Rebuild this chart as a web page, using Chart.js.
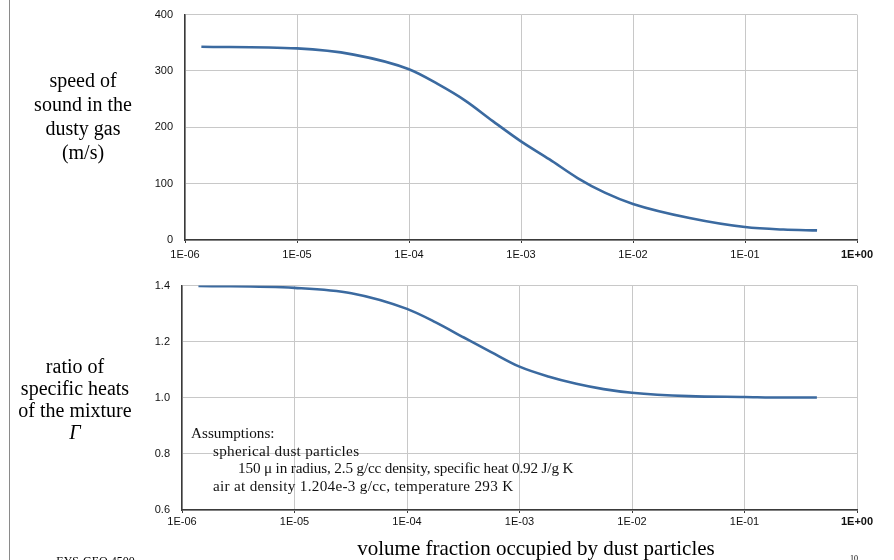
<!DOCTYPE html>
<html>
<head>
<meta charset="utf-8">
<script src="https://cdn.jsdelivr.net/npm/chart.js@4.4.1/dist/chart.umd.min.js"></script>
<style>
  html, body { margin:0; padding:0; background:#fff; width:894px; height:560px; overflow:hidden; }
  #wrap { position:relative; width:894px; height:560px; overflow:hidden; }
  canvas { position:absolute; left:0; }
  .lbl { position:absolute; font-family:"Liberation Serif","Times New Roman",serif; color:#000; text-align:center; }
  .side { font-size:20px; line-height:24px; width:170px; }
  .assume { position:absolute; font-family:"Liberation Serif","Times New Roman",serif; font-size:15.2px; line-height:17.6px; color:#111; white-space:nowrap; }
  #vline { position:absolute; left:9px; top:0; width:1px; height:560px; background:#8a8a8a; }
</style>
</head>
<body>
<div id="wrap">
  <div id="vline"></div>
  <canvas id="top" width="894" height="279" style="top:-4px;width:894px;height:279px;"></canvas>
  <canvas id="bot" width="894" height="278" style="top:267px;width:894px;height:278px;"></canvas>

  <div class="lbl side" style="left:-2px;top:68px;">speed of<br>sound in the<br>dusty gas<br>(m/s)</div>
  <div class="lbl side" style="left:-10px;top:355px;line-height:22px;">ratio of<br>specific heats<br>of the mixture<br><i>Γ</i></div>

  <div class="assume" style="left:191px;top:424px;">Assumptions:</div>
  <div class="assume" style="left:213px;top:442px;letter-spacing:0.3px;">spherical dust particles</div>
  <div class="assume" style="left:238px;top:459px;letter-spacing:-0.15px;">150 μ in radius, 2.5 g/cc density, specific heat 0.92 J/g K</div>
  <div class="assume" style="left:213px;top:477px;letter-spacing:0.3px;">air at density 1.204e-3 g/cc, temperature 293 K</div>

  <div class="lbl" style="left:280px;top:536px;width:512px;font-size:21px;line-height:24px;">volume fraction occupied by dust particles</div>
  <div class="lbl" style="left:33px;top:555px;width:125px;font-size:12px;line-height:13px;">EYS-GEO 4500</div>
  <div class="lbl" style="left:846px;top:554px;width:16px;font-size:8px;line-height:10px;">10</div>
</div>
<script>
// ---- data ----
const volumeFraction = [1.4e-6, 1e-5, 3.2e-5, 1e-4, 1.8e-4, 3.2e-4, 5.6e-4, 1e-3, 1.8e-3, 3.2e-3, 5.6e-3, 1e-2, 3.2e-2, 1e-1, 2.2e-1, 4.4e-1];
const soundSpeed     = [343, 340, 329, 303, 277, 247, 211, 175, 143, 110, 84, 64, 39, 23, 18.5, 17];
const gammaMix       = [1.399, 1.392, 1.373, 1.317, 1.269, 1.215, 1.163, 1.111, 1.076, 1.050, 1.031, 1.018, 1.006, 1.003, 1.001, 1.001];
const xTickValues    = [1e-6, 1e-5, 1e-4, 1e-3, 1e-2, 1e-1, 1];
const xTickLabels    = ["1E-06", "1E-05", "1E-04", "1E-03", "1E-02", "1E-01", "1E+00"];
const speedTicks     = [0, 100, 200, 300, 400];
const gammaTicks     = [0.6, 0.8, 1.0, 1.2, 1.4];

const lineColor = '#3b6aa0';
const gridColor = '#c8c8c8';
const axisColor = '#3a3a3a';

function makeChart(id, values, yTicks, yFmt, yWidth, padTop, xPad, xHeight) {
  const pts = volumeFraction.map((x, i) => ({x: x, y: values[i]}));
  return new Chart(document.getElementById(id), {
    type: 'line',
    data: { datasets: [{
      data: pts, borderColor: lineColor, borderWidth: 2.6, pointRadius: 0,
      cubicInterpolationMode: 'monotone', fill: false
    }]},
    options: {
      responsive: false, animation: false,
      plugins: { legend: {display:false}, tooltip: {enabled:false} },
      layout: { padding: { top: padTop, right: 37, left: 0, bottom: 0 } },
      scales: {
        x: {
          type: 'logarithmic', min: 1e-6, max: 1,
          afterBuildTicks: s => { s.ticks = xTickValues.map(v => ({value: v})); },
          afterFit: s => { s.height = xHeight; },
          border: { display: true, color: axisColor, width: 1.5 },
          grid: { color: gridColor, lineWidth: 1, drawTicks: true, tickLength: 3, tickColor: axisColor },
          ticks: {
            autoSkip: false, maxRotation: 0, padding: xPad, color: '#111',
            font: ctx => ({ family: '"Liberation Sans", Arial, sans-serif', size: 11,
                            weight: (ctx.tick && ctx.tick.value === 1) ? 'bold' : 'normal' }),
            callback: (v) => { const i = xTickValues.indexOf(v); return i >= 0 ? xTickLabels[i] : ''; }
          }
        },
        y: {
          min: yTicks[0], max: yTicks[yTicks.length - 1],
          afterBuildTicks: s => { s.ticks = yTicks.map(v => ({value: v})); },
          afterFit: s => { s.width = yWidth; },
          border: { display: true, color: axisColor, width: 1.5 },
          grid: { color: gridColor, lineWidth: 1, drawTicks: false },
          ticks: {
            padding: 12, color: '#111',
            font: { family: '"Liberation Sans", Arial, sans-serif', size: 11 },
            callback: yFmt
          }
        }
      }
    }
  });
}

makeChart('top', soundSpeed, speedTicks, v => String(v), 185, 10, 5, 35);
makeChart('bot', gammaMix, gammaTicks, v => v.toFixed(1), 182, 12, 2, 35);
</script>
</body>
</html>
